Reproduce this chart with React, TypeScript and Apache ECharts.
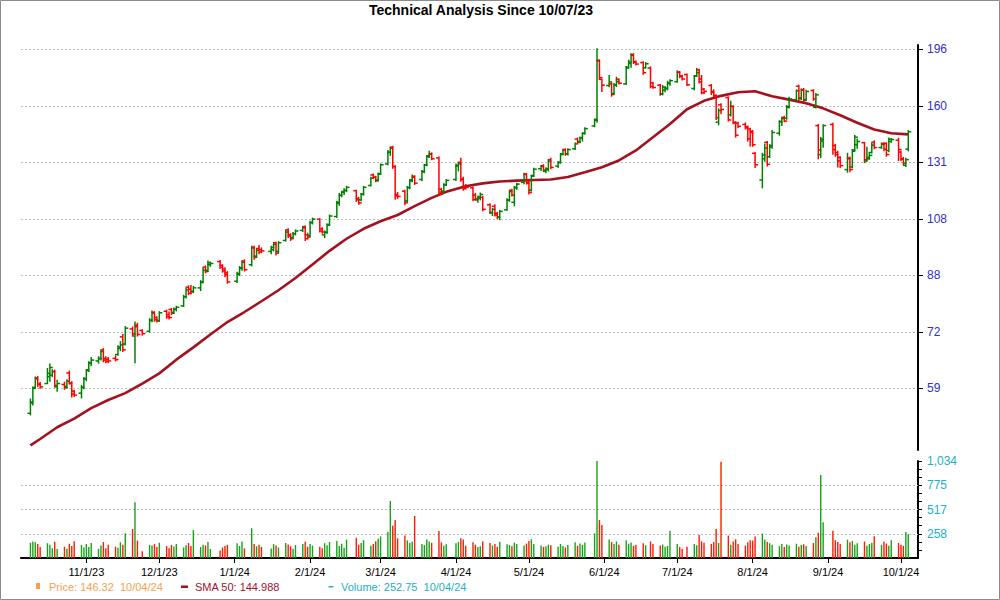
import React, { useEffect, useRef } from "react";
import * as echarts from "echarts";

// ---------- DATA ----------
const titleText = "Technical Analysis Since 10/07/23";
const firstDay = "2023-10-09";
const lastDay = "2024-10-04";
const holidays = [
  "2023-11-23", "2023-12-25", "2024-01-01", "2024-01-15", "2024-02-19",
  "2024-03-29", "2024-05-27", "2024-06-19", "2024-07-04", "2024-09-02",
];
const monthTicks = [
  "2023-11-01", "2023-12-01", "2024-01-01", "2024-02-01", "2024-03-01", "2024-04-01",
  "2024-05-01", "2024-06-01", "2024-07-01", "2024-08-01", "2024-09-01", "2024-10-01",
];
const priceTickLabels = [59, 72, 88, 108, 131, 160, 196];
const volumeTickValues = [258.5, 517, 775.5, 1034];
const volumeMinorTicks = [86.2, 172.3, 258.5, 344.7, 430.8, 517, 603.2, 689.3, 775.5, 861.7, 947.8, 1034];

// [open, high, low, close] per trading day
const oct23 = [
  [54.0, 56.8, 53.7, 56.2], [56.0, 59.2, 55.6, 59.0], [59.2, 61.4, 59.0, 61.0], [61.2, 61.5, 59.4, 59.8],
  [59.9, 60.2, 59.0, 59.3], [60.0, 63.3, 60.0, 62.2], [61.5, 64.3, 60.5, 63.5], [61.8, 63.0, 61.5, 62.6],
  [62.6, 62.9, 59.3, 59.6], [59.3, 60.7, 58.4, 60.0], [59.8, 60.3, 58.8, 59.2], [59.4, 60.8, 59.0, 60.5],
  [62.3, 62.7, 59.9, 60.1], [60.0, 60.4, 57.2, 57.8], [58.4, 58.6, 57.3, 57.6], [58.0, 59.6, 57.0, 59.2],
  [59.2, 61.3, 58.9, 61.0],
];
const nov23 = [
  [61.0, 63.0, 60.6, 62.8], [63.0, 64.8, 62.6, 64.5], [64.6, 65.8, 63.9, 65.2], [65.0, 66.0, 64.5, 65.6],
  [65.5, 67.5, 65.2, 67.2], [67.6, 67.9, 64.8, 65.2], [65.6, 66.0, 64.6, 64.9], [65.4, 65.8, 64.6, 65.0],
  [65.6, 66.2, 65.0, 65.3], [66.5, 68.6, 66.3, 68.3], [68.0, 69.6, 67.4, 68.8], [70.8, 71.4, 67.2, 67.6],
  [69.0, 73.4, 68.8, 73.0], [72.8, 73.3, 71.2, 71.5], [71.0, 74.6, 64.6, 73.4], [73.8, 74.3, 71.0, 71.4],
  [72.4, 72.6, 71.2, 71.6], [72.2, 75.5, 72.0, 75.1], [75.0, 77.6, 74.7, 77.0], [77.2, 77.4, 74.8, 75.2],
  [75.8, 76.0, 74.6, 74.9],
];
const dec23 = [
  [75.0, 77.4, 74.8, 77.1], [77.5, 77.8, 75.6, 76.0], [76.6, 77.3, 75.4, 75.8], [78.0, 78.3, 76.6, 77.0],
  [77.2, 78.4, 76.9, 78.1], [78.0, 78.9, 77.6, 78.6], [79.0, 82.0, 78.8, 81.6], [81.6, 84.0, 81.2, 83.6],
  [84.4, 84.8, 82.2, 82.6], [83.8, 84.9, 82.4, 83.0], [83.2, 84.6, 82.8, 84.2], [84.2, 86.4, 83.4, 85.8],
  [86.0, 90.3, 85.8, 89.6], [90.6, 91.0, 88.8, 89.2], [89.6, 92.6, 89.2, 92.0], [91.4, 92.3, 90.9, 91.8],
  [92.4, 92.8, 90.2, 90.6], [91.2, 91.4, 89.0, 89.4], [90.0, 90.4, 87.6, 88.2], [88.8, 89.2, 85.6, 86.0],
];
const jan24 = [
  [86.2, 89.0, 85.8, 88.6], [88.4, 90.8, 88.0, 90.4], [90.2, 92.6, 89.6, 92.2], [92.6, 93.0, 89.4, 89.8],
  [91.4, 97.6, 91.0, 97.0], [97.2, 97.6, 93.2, 93.8], [94.2, 96.6, 93.8, 96.2], [96.8, 97.8, 95.0, 95.6],
  [96.4, 97.0, 95.4, 96.0], [95.8, 97.6, 95.0, 97.2], [96.4, 98.8, 96.0, 98.2], [98.8, 99.0, 94.6, 95.2],
  [95.8, 99.2, 95.4, 98.8], [99.6, 103.2, 99.4, 102.6], [103.4, 103.8, 100.6, 101.2], [101.6, 102.0, 99.6, 100.2],
  [100.6, 102.4, 100.4, 102.0], [102.0, 103.4, 101.6, 103.0], [103.2, 104.6, 102.8, 104.2], [104.6, 104.8, 99.6, 100.2],
  [101.6, 102.2, 100.2, 100.8],
];
const feb24 = [
  [101.4, 106.6, 101.0, 106.2], [106.0, 107.8, 105.6, 107.4], [107.4, 107.6, 102.6, 103.0], [103.8, 104.2, 102.2, 102.6],
  [101.6, 103.0, 100.6, 102.4], [102.6, 105.6, 102.2, 105.2], [105.4, 109.0, 105.0, 108.6], [108.4, 114.4, 108.0, 114.0],
  [113.6, 117.6, 112.8, 117.0], [116.8, 118.6, 116.2, 118.2], [118.2, 119.6, 117.2, 119.0], [118.8, 120.6, 118.4, 120.2],
  [118.8, 119.0, 114.4, 115.0], [115.6, 116.0, 113.2, 113.8], [115.0, 117.6, 114.6, 117.2], [117.4, 120.6, 117.0, 120.2],
  [121.0, 124.6, 120.8, 124.2], [125.6, 126.0, 124.0, 124.6], [124.6, 125.0, 122.6, 123.0], [123.4, 126.4, 123.0, 126.0],
];
const mar24 = [
  [126.2, 130.6, 125.8, 130.2], [130.6, 137.0, 130.2, 136.2], [136.0, 138.6, 134.6, 138.0], [138.6, 139.0, 128.6, 129.4],
  [129.4, 129.8, 115.2, 116.6], [117.2, 118.0, 115.6, 116.4], [118.6, 119.0, 113.0, 113.8], [114.6, 120.6, 114.2, 120.0],
  [120.2, 123.6, 119.6, 123.0], [123.4, 125.6, 122.6, 125.0], [124.6, 125.2, 121.4, 122.0], [123.6, 127.6, 123.0, 127.0],
  [127.2, 130.4, 126.6, 130.0], [130.2, 134.6, 129.8, 134.0], [134.4, 136.6, 133.6, 135.4], [135.2, 135.8, 132.6, 133.0],
  [133.4, 133.8, 117.2, 118.2], [119.4, 119.8, 117.4, 118.4], [118.6, 121.8, 117.6, 121.2], [121.4, 123.6, 121.0, 123.2],
];
const apr24 = [
  [123.6, 130.6, 123.2, 130.0], [129.6, 131.2, 127.4, 130.6], [131.4, 133.2, 122.8, 123.8], [123.6, 124.6, 119.0, 119.6],
  [120.8, 121.4, 119.6, 120.2], [120.0, 120.4, 114.6, 115.2], [117.0, 117.6, 114.8, 115.4], [115.0, 116.6, 114.0, 116.2],
  [115.6, 117.8, 115.0, 117.2], [116.0, 116.4, 110.6, 111.2], [113.0, 113.4, 109.6, 110.0], [109.8, 111.6, 108.8, 111.2],
  [112.4, 113.0, 108.6, 109.0], [109.6, 110.0, 107.6, 108.2], [108.2, 110.8, 107.2, 110.4], [111.0, 115.4, 110.8, 115.0],
  [114.8, 118.8, 114.4, 118.4], [119.0, 119.4, 116.6, 117.0], [114.0, 120.6, 112.6, 120.0], [120.2, 122.0, 119.4, 121.6],
  [122.4, 126.4, 121.8, 126.0], [125.8, 126.2, 121.6, 122.0],
];
const may24 = [
  [122.4, 123.0, 117.4, 118.0], [119.0, 125.4, 118.6, 125.0], [125.4, 128.6, 125.0, 128.2], [128.4, 129.8, 127.6, 129.4],
  [129.8, 130.2, 127.2, 127.8], [127.2, 128.8, 126.6, 128.4], [128.0, 132.4, 127.4, 132.0], [132.6, 133.2, 128.4, 129.0],
  [129.6, 131.6, 129.0, 131.2], [131.4, 135.4, 131.0, 135.0], [135.4, 137.6, 135.0, 137.2], [137.4, 137.8, 134.6, 135.2],
  [135.4, 137.8, 134.8, 137.4], [137.8, 140.6, 137.4, 140.2], [142.6, 143.2, 140.4, 141.0], [141.4, 143.6, 140.8, 143.2],
  [143.4, 145.8, 141.6, 145.4], [145.6, 148.4, 145.2, 148.0], [149.4, 152.8, 149.0, 152.4], [153.0, 196.4, 151.4, 188.6],
  [188.0, 188.6, 176.4, 177.3], [176.2, 176.4, 168.8, 172.6],
];
const jun24 = [
  [172.4, 178.6, 171.6, 174.6], [173.4, 174.0, 166.0, 167.0], [167.6, 173.6, 167.2, 172.8], [172.6, 177.6, 171.8, 174.8],
  [176.2, 176.6, 173.4, 173.8], [173.4, 184.4, 173.0, 183.4], [184.0, 188.6, 183.6, 187.4], [186.4, 193.0, 184.0, 191.8],
  [192.4, 193.0, 186.4, 187.2], [187.6, 188.0, 185.4, 186.0], [187.0, 187.6, 179.4, 180.4], [183.6, 187.0, 183.2, 186.2],
  [183.4, 184.2, 171.0, 171.8], [174.0, 174.4, 170.8, 171.2], [172.6, 173.0, 166.6, 167.4], [167.2, 172.4, 166.8, 171.4],
  [169.6, 171.6, 168.6, 170.8], [170.4, 175.0, 169.8, 173.6], [174.0, 176.0, 172.6, 175.4],
];
const jul24 = [
  [174.8, 181.6, 174.4, 180.6], [180.8, 181.2, 177.2, 178.0], [178.4, 178.8, 175.8, 176.4], [179.2, 179.6, 172.4, 172.8],
  [170.6, 178.6, 169.8, 178.2], [178.4, 183.2, 178.0, 180.4], [182.2, 182.6, 174.0, 174.6], [176.4, 178.6, 167.4, 168.0],
  [170.2, 170.6, 167.6, 168.8], [172.4, 173.0, 167.0, 168.2], [168.8, 169.8, 165.6, 166.6], [166.2, 166.6, 152.8, 153.8],
  [151.4, 158.8, 150.0, 157.8], [161.0, 161.6, 156.0, 158.4], [165.2, 165.6, 152.0, 152.6], [155.4, 163.0, 154.8, 160.2],
  [160.0, 160.4, 150.6, 151.4], [151.0, 151.6, 143.6, 144.6], [151.0, 151.4, 148.6, 149.2], [150.2, 151.0, 147.8, 148.4],
  [149.0, 149.4, 141.6, 142.8], [147.8, 148.2, 139.2, 146.0],
];
const aug24 = [
  [146.6, 147.0, 139.0, 139.8], [135.6, 136.0, 129.0, 130.2], [123.4, 135.6, 120.0, 134.8], [133.0, 140.2, 131.8, 138.2],
  [141.0, 141.4, 129.6, 130.4], [134.0, 139.8, 133.6, 139.4], [138.6, 147.0, 138.0, 146.0], [145.6, 152.2, 144.6, 151.6],
  [151.8, 154.0, 149.6, 153.4], [154.0, 154.6, 151.6, 152.0], [153.6, 160.6, 153.0, 160.0], [159.6, 165.4, 159.2, 164.4],
  [164.0, 169.8, 163.6, 169.2], [172.0, 172.6, 163.6, 164.6], [165.0, 170.4, 164.0, 169.6], [169.8, 170.6, 162.6, 163.6],
  [164.0, 169.6, 163.6, 168.8], [169.4, 169.8, 163.6, 164.4], [159.6, 167.6, 159.2, 166.8], [149.6, 150.2, 133.0, 137.2],
  [135.0, 143.4, 133.6, 142.6], [141.6, 150.0, 138.6, 149.6],
];
const sep24 = [
  [150.2, 150.8, 135.2, 137.4], [139.4, 140.0, 134.2, 135.0], [136.0, 136.6, 129.2, 132.0], [133.6, 134.0, 129.0, 129.8],
  [128.0, 135.6, 126.8, 133.0], [133.4, 133.8, 127.0, 128.0], [129.2, 137.4, 128.8, 136.6], [137.2, 144.4, 137.0, 143.6],
  [139.8, 142.6, 138.0, 141.4], [140.8, 141.0, 131.2, 132.6], [132.0, 138.6, 131.8, 133.8], [133.0, 135.8, 132.8, 134.6],
  [136.0, 140.4, 135.8, 139.6], [141.0, 141.8, 137.8, 138.4], [138.4, 140.6, 138.0, 140.0], [140.4, 140.8, 136.8, 137.6],
  [140.4, 140.8, 134.2, 135.0], [137.0, 143.2, 136.4, 142.6], [141.4, 142.8, 141.0, 142.4], [142.0, 143.0, 132.2, 137.4],
];
const oct24 = [
  [136.2, 136.6, 132.2, 132.8], [133.0, 133.6, 130.4, 131.0], [130.0, 133.2, 129.4, 132.6], [137.6, 147.0, 136.8, 146.32],
];

// daily volume
const volOct23 = [162, 175, 168, 150, 118, 158, 140, 104, 172, 96, 120, 98, 152, 128, 178, 138, 112];
const volNov23 = [150, 118, 160, 96, 132, 170, 104, 142, 120, 108, 168, 140, 263, 309, 594, 186, 72, 140, 132, 150, 118];
const volDec23 = [162, 128, 104, 140, 122, 150, 112, 136, 160, 128, 298, 118, 142, 134, 170, 96, 80, 112, 128, 140];
const volJan24 = [158, 128, 176, 102, 316, 150, 124, 140, 118, 100, 148, 134, 112, 160, 144, 126, 98, 138, 150, 172, 120];
const volFeb24 = [148, 132, 120, 104, 158, 136, 170, 182, 128, 152, 110, 196, 215, 142, 160, 190, 130, 150, 178, 205];
const volMar24 = [230, 280, 608, 344, 405, 210, 240, 188, 160, 172, 448, 150, 138, 196, 176, 162, 288, 166, 130, 146];
const volApr24 = [158, 172, 210, 196, 130, 168, 142, 118, 126, 176, 160, 132, 150, 118, 172, 146, 138, 124, 164, 150, 132, 154];
const volMay24 = [180, 200, 148, 132, 118, 124, 142, 136, 120, 150, 128, 112, 138, 168, 130, 154, 140, 166, 263, 1034, 405, 352];
const volJun24 = [196, 170, 150, 176, 140, 188, 152, 166, 130, 142, 158, 136, 176, 150, 132, 144, 120, 128, 290];
const volJul24 = [150, 118, 96, 120, 148, 136, 245, 178, 162, 150, 170, 309, 160, 1027, 240, 140, 176, 200, 150, 132, 168, 190];
const volAug24 = [186, 230, 262, 198, 170, 158, 140, 126, 150, 118, 144, 132, 152, 120, 138, 146, 128, 160, 220, 270, 885, 380];
const volSep24 = [290, 190, 170, 150, 196, 168, 182, 140, 158, 176, 130, 150, 162, 232, 140, 172, 154, 130, 190, 160];
const volOct24 = [140, 130, 277, 252.75];

// 50-day SMA read weekly
const smaDates = [
  "2023-10-09", "2023-10-13", "2023-10-20", "2023-10-27", "2023-11-03", "2023-11-10", "2023-11-17", "2023-11-24",
  "2023-12-01", "2023-12-08", "2023-12-15", "2023-12-22", "2023-12-29", "2024-01-05", "2024-01-12", "2024-01-19",
  "2024-01-26", "2024-02-02", "2024-02-09", "2024-02-16", "2024-02-23", "2024-03-01", "2024-03-08", "2024-03-15",
  "2024-03-22", "2024-03-28", "2024-04-05", "2024-04-12", "2024-04-19", "2024-04-26", "2024-05-03", "2024-05-10",
  "2024-05-17", "2024-05-24", "2024-05-31", "2024-06-07", "2024-06-14", "2024-06-21", "2024-06-28", "2024-07-05",
  "2024-07-12", "2024-07-19", "2024-07-26", "2024-08-02", "2024-08-09", "2024-08-16", "2024-08-23", "2024-08-30",
  "2024-09-06", "2024-09-13", "2024-09-20", "2024-09-27", "2024-10-04",
];
const smaValues = [
  48.2, 49.3, 51.4, 53.0, 55.0, 56.6, 58.0, 60.0,
  62.2, 65.3, 68.2, 71.4, 74.6, 77.3, 80.3, 83.5,
  87.2, 91.5, 96.0, 100.2, 103.8, 106.6, 109.0, 112.5,
  115.8, 118.3, 120.7, 121.9, 122.7, 123.1, 123.4, 123.6,
  124.7, 126.8, 129.1, 132.2, 137.0, 143.5, 150.4, 158.5,
  163.3, 166.2, 168.3, 168.9, 166.0, 164.0, 161.9, 159.0,
  155.2, 151.1, 147.5, 145.6, 144.988,
];

// ---------- HELPERS ----------
const DAY = 86400000;
const parseDay = (s: string) => {
  const [y, m, d] = s.split("-").map(Number);
  return Date.UTC(y, m - 1, d);
};
function buildTradingDays(start: string, end: string, skip: string[]): number[] {
  const out: number[] = [];
  const endT = parseDay(end);
  for (let t = parseDay(start); t <= endT; t += DAY) {
    const d = new Date(t);
    const dow = d.getUTCDay();
    const iso = d.toISOString().slice(0, 10);
    if (dow !== 0 && dow !== 6 && skip.indexOf(iso) < 0) out.push(t);
  }
  return out;
}

const FONT = "'Liberation Sans', Arial, Helvetica, sans-serif";
const UP = "#008000";
const DOWN = "#ff0000";
const VOL_UP = "#17a317";
const VOL_DOWN = "#ff1a00";
const SMA_COLOR = "#a3121e";
const PRICE_LBL = "#3030c8";
const VOL_LBL = "#22b0c6";

export default function App() {
  const ref = useRef<HTMLDivElement>(null);

  useEffect(() => {
    if (!ref.current) return;
    document.body.style.margin = "0";
    const chart = echarts.init(ref.current, undefined, { renderer: "svg" });

    const days = buildTradingDays(firstDay, lastDay, holidays);
    const ohlc = [
      ...oct23, ...nov23, ...dec23, ...jan24, ...feb24, ...mar24, ...apr24,
      ...may24, ...jun24, ...jul24, ...aug24, ...sep24, ...oct24,
    ];
    const volume = [
      ...volOct23, ...volNov23, ...volDec23, ...volJan24, ...volFeb24, ...volMar24, ...volApr24,
      ...volMay24, ...volJun24, ...volJul24, ...volAug24, ...volSep24, ...volOct24,
    ];
    const n = Math.min(days.length, ohlc.length, volume.length);

    const base = priceTickLabels[0];
    const lnStep = Math.log(priceTickLabels[priceTickLabels.length - 1] / base) / (priceTickLabels.length - 1);
    const toU = (v: number) => Math.log(v / base) / lnStep;

    const ohlcData: number[][] = [];
    const volData: any[] = [];
    for (let i = 0; i < n; i++) {
      const [o, h, l, c] = ohlc[i];
      ohlcData.push([days[i], toU(o), toU(h), toU(l), toU(c)]);
      volData.push({ value: [days[i], volume[i]], itemStyle: { color: c >= o ? VOL_UP : VOL_DOWN } });
    }
    const smaData = smaDates.map((d, i) => [parseDay(d), toU(smaValues[i])]);

    const monthVals = monthTicks.map(parseDay);
    const priceTickVals = priceTickLabels.map((_, i) => i);

    const lastIdx = n - 1;
    const lastDate = new Date(days[lastIdx]);
    const fmtDate = (d: Date) =>
      String(d.getUTCMonth() + 1).padStart(2, "0") + "/" + String(d.getUTCDate()).padStart(2, "0") + "/" +
      String(d.getUTCFullYear() % 100).padStart(2, "0");
    const lastClose = ohlc[lastIdx][3];
    const lastSma = smaValues[smaValues.length - 1];
    const lastVol = volume[lastIdx];

    const xMin = parseDay("2023-10-05") + 3 * 3600000;
    const xMax = parseDay("2024-10-08");

    const option: any = {
      animation: false,
      backgroundColor: "#ffffff",
      textStyle: { fontFamily: FONT },
      grid: [
        { left: 21, top: 45, width: 897, height: 405 },
        { left: 21, top: 461, width: 897, height: 97 },
      ],
      xAxis: [
        {
          type: "value", gridIndex: 0, min: xMin, max: xMax,
          axisLine: { show: false }, axisTick: { show: false }, axisLabel: { show: false }, splitLine: { show: false },
        },
        {
          type: "value", gridIndex: 1, min: xMin, max: xMax,
          axisLine: { show: true, onZero: false, lineStyle: { color: "#000", width: 2 } },
          axisTick: { show: true, customValues: monthVals, length: 5, lineStyle: { color: "#000", width: 1 } },
          axisLabel: {
            show: true, customValues: monthVals, color: "#000", fontSize: 11, fontFamily: FONT, margin: 8,
            formatter: (v: number) => {
              const d = new Date(v);
              return `${d.getUTCMonth() + 1}/${d.getUTCDate()}/${String(d.getUTCFullYear() % 100).padStart(2, "0")}`;
            },
          },
          splitLine: { show: false },
        },
      ],
      yAxis: [
        {
          type: "value", gridIndex: 0, position: "right", min: -1.092, max: 6.076,
          axisLine: { show: true, onZero: false, lineStyle: { color: "#000", width: 2 } },
          axisTick: { show: true, customValues: priceTickVals, length: 5, lineStyle: { color: "#000" } },
          axisLabel: {
            show: true, customValues: priceTickVals, color: PRICE_LBL, fontSize: 12, fontFamily: FONT, margin: 9,
            formatter: (v: number) => {
              const k = Math.round(v);
              return k >= 0 && k < priceTickLabels.length ? String(priceTickLabels[k]) : "";
            },
          },
          splitLine: { show: true, lineStyle: { color: "#bdbdbd", type: [2, 2], width: 1 } },
        },
        {
          type: "value", gridIndex: 1, position: "right", min: 0, max: 1034,
          axisLine: { show: true, onZero: false, lineStyle: { color: "#000", width: 2 } },
          axisTick: { show: true, customValues: volumeMinorTicks, length: 4, lineStyle: { color: "#000" } },
          axisLabel: {
            show: true, customValues: volumeTickValues, color: VOL_LBL, fontSize: 12, fontFamily: FONT, margin: 9,
            formatter: (v: number) => Math.floor(v).toLocaleString("en-US"),
          },
          splitLine: { show: false },
        },
      ],
      series: [
        {
          type: "custom",
          name: "Price",
          xAxisIndex: 0, yAxisIndex: 0,
          encode: { x: 0, y: [1, 2, 3, 4] },
          data: ohlcData,
          renderItem: (_p: any, api: any) => {
            const t = api.value(0);
            const o = api.coord([t, api.value(1)]);
            const h = api.coord([t, api.value(2)]);
            const l = api.coord([t, api.value(3)]);
            const c = api.coord([t, api.value(4)]);
            const color = api.value(4) >= api.value(1) ? UP : DOWN;
            const x = o[0];
            const st = { stroke: color, lineWidth: 1.5 };
            return {
              type: "group",
              children: [
                { type: "line", shape: { x1: x, y1: h[1] - 0.5, x2: x, y2: l[1] + 0.5 }, style: st },
                { type: "line", shape: { x1: x - 3, y1: o[1], x2: x, y2: o[1] }, style: st },
                { type: "line", shape: { x1: x, y1: c[1], x2: x + 3, y2: c[1] }, style: st },
              ],
            };
          },
          z: 3,
        },
        {
          type: "line",
          name: "SMA 50",
          xAxisIndex: 0, yAxisIndex: 0,
          data: smaData,
          showSymbol: false,
          lineStyle: { color: SMA_COLOR, width: 2.6 },
          z: 2,
        },
        {
          type: "bar",
          name: "Volume",
          xAxisIndex: 1, yAxisIndex: 1,
          data: volData,
          barWidth: 1.4,
          markLine: {
            silent: true, symbol: "none", z: 1,
            label: { show: false },
            lineStyle: { color: "#bdbdbd", type: [2, 2], width: 1 },
            data: volumeTickValues.slice(0, 3).map((v) => ({ yAxis: v })),
          },
        },
      ],
      graphic: [
        {
          type: "rect", silent: true, z: -1,
          shape: { x: 0.5, y: 0.5, width: 999, height: 599 },
          style: { fill: "none", stroke: "#8a8a8a", lineWidth: 1 },
        },
        {
          type: "text", x: 481, y: 10,
          style: {
            text: titleText, fill: "#000", font: `bold 14px ${FONT}`,
            textAlign: "center", textVerticalAlign: "middle",
          },
        },
        { type: "rect", shape: { x: 36, y: 583, width: 4, height: 6 }, style: { fill: "#f5a14e" } },
        {
          type: "text", x: 49, y: 587,
          style: {
            text: `Price: ${lastClose.toFixed(2)}  ${fmtDate(lastDate)}`, fill: "#f5a14e",
            font: `11px ${FONT}`, textAlign: "left", textVerticalAlign: "middle",
          },
        },
        { type: "rect", shape: { x: 181, y: 585.5, width: 7, height: 2.5 }, style: { fill: SMA_COLOR } },
        {
          type: "text", x: 195, y: 587,
          style: {
            text: `SMA 50: ${lastSma.toFixed(3)}`, fill: "#a01030",
            font: `11px ${FONT}`, textAlign: "left", textVerticalAlign: "middle",
          },
        },
        { type: "rect", shape: { x: 328.5, y: 586, width: 5, height: 1.5 }, style: { fill: VOL_LBL } },
        {
          type: "text", x: 341, y: 587,
          style: {
            text: `Volume: ${lastVol.toFixed(2)}  ${fmtDate(lastDate)}`, fill: VOL_LBL,
            font: `11px ${FONT}`, textAlign: "left", textVerticalAlign: "middle",
          },
        },
      ],
    };

    chart.setOption(option);
    return () => chart.dispose();
  }, []);

  return (
    <div
      ref={ref}
      style={{ position: "absolute", left: 0, top: 0, width: 1000, height: 600, background: "#fff" }}
    />
  );
}
